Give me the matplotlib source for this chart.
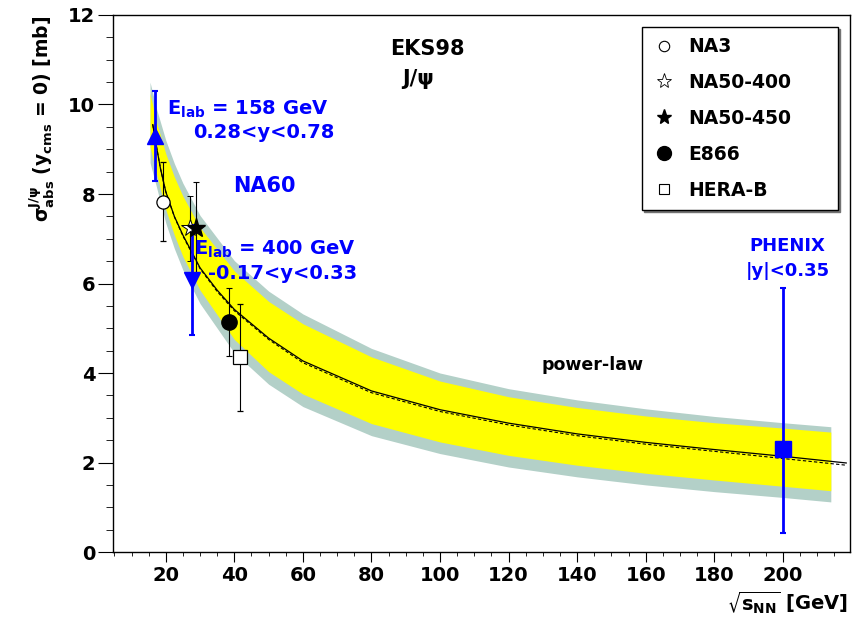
import matplotlib
matplotlib.use("Agg")
import matplotlib.pyplot as plt
from matplotlib.lines import Line2D
from matplotlib.ticker import MultipleLocator

plt.rcParams["font.family"] = ["DejaVu Sans"]
plt.rcParams["font.weight"] = "bold"
plt.rcParams["mathtext.fontset"] = "dejavusans"
plt.rcParams["mathtext.default"] = "bf"

# power-law curves (solid and dashed) vs sqrt(s_NN)
curve_x = [16.2, 17.3, 18.5, 20, 22.5, 25, 30, 35, 40, 50, 60, 80, 100, 120, 140, 160, 180, 200, 218.5]
curve_solid = [9.55, 9.05, 8.55, 8.05, 7.5, 7.08, 6.35, 5.85, 5.42, 4.78, 4.27, 3.6, 3.18, 2.88, 2.64, 2.45, 2.29, 2.14, 1.99]
curve_dash = [9.55, 9.05, 8.55, 8.05, 7.49, 7.06, 6.33, 5.82, 5.39, 4.75, 4.23, 3.56, 3.14, 2.84, 2.6, 2.41, 2.25, 2.09, 1.94]

# uncertainty bands
band_x = [15.4, 17.3, 20, 22.5, 25, 30, 40, 50, 60, 80, 100, 120, 140, 160, 180, 200, 214]
gray_hi = [10.5, 9.9, 9.2, 8.68, 8.24, 7.52, 6.51, 5.83, 5.32, 4.55, 4.0, 3.65, 3.4, 3.2, 3.03, 2.89, 2.8]
yellow_hi = [10.25, 9.6, 8.9, 8.38, 7.95, 7.25, 6.28, 5.6, 5.1, 4.36, 3.82, 3.47, 3.23, 3.04, 2.89, 2.77, 2.68]
yellow_lo = [9.05, 8.45, 7.65, 7.08, 6.6, 5.85, 4.75, 4.03, 3.53, 2.87, 2.46, 2.16, 1.94, 1.76, 1.61, 1.47, 1.37]
gray_lo = [8.7, 8.15, 7.35, 6.78, 6.3, 5.55, 4.45, 3.75, 3.25, 2.6, 2.2, 1.9, 1.68, 1.5, 1.35, 1.22, 1.12]

# measurements: sqrt(s), sigma_abs, error
na3 = (19.2, 7.83, 0.88)
na50_400 = (27.2, 7.23, 0.72)
na50_450 = (28.9, 7.25, 1.01)
e866 = (38.5, 5.13, 0.76)
herab = (41.6, 4.35, 1.2)
na60_158 = (16.9, 9.3, 1.0)
na60_400 = (27.5, 6.08, 1.22)
phenix = (200, 2.31, 1.89, 3.58)  # x, y, err down, err up

legend_labels = ["NA3", "NA50-400", "NA50-450", "E866", "HERA-B"]

fig = plt.figure(figsize=(8.64, 6.17), dpi=100)
ax = fig.add_axes([0.1308, 0.1053, 0.853, 0.8704])

ax.fill_between(band_x, gray_lo, gray_hi, color="#b3d0c8", lw=0)
ax.fill_between(band_x, yellow_lo, yellow_hi, color="#ffff00", lw=0)
ax.plot(curve_x, curve_solid, color="black", lw=0.9)
ax.plot(curve_x, curve_dash, color="black", lw=0.8, ls=(0, (3, 2)))

eb = dict(ecolor="black", elinewidth=0.8, capsize=2.5, capthick=0.8)
ax.errorbar(na3[0], na3[1], yerr=na3[2], fmt="o", ms=9.5, mfc="white", mec="black", mew=0.9, **eb)
ax.errorbar(na50_400[0], na50_400[1], yerr=na50_400[2], fmt="*", ms=13, mfc="white", mec="black", mew=0.7, **eb)
ax.errorbar(na50_450[0], na50_450[1], yerr=na50_450[2], fmt="*", ms=14, mfc="black", mec="black", **eb)
ax.errorbar(e866[0], e866[1], yerr=e866[2], fmt="o", ms=11, mfc="black", mec="black", **eb)
ax.errorbar(herab[0], herab[1], yerr=herab[2], fmt="s", ms=9.5, mfc="white", mec="black", mew=0.9, **eb)

bb = dict(color="blue", elinewidth=2, capsize=2.5, capthick=1.5)
ax.errorbar(na60_158[0], na60_158[1], yerr=na60_158[2], fmt="^", ms=12, **bb)
ax.errorbar(na60_400[0], na60_400[1], yerr=na60_400[2], fmt="v", ms=12, **bb)
ax.errorbar(phenix[0], phenix[1], yerr=[[phenix[2]], [phenix[3]]], fmt="s", ms=12, **bb)

# annotations
blue = dict(color="blue", fontsize=14, fontweight="bold")
ax.text(20.3, 9.77, r"E$_{lab}$ = 158 GeV", ha="left", va="baseline", **blue)
ax.text(27.9, 9.25, "0.28<y<0.78", ha="left", va="baseline", **blue)
ax.text(48.9, 8.04, "NA60", ha="center", va="baseline", color="blue", fontsize=15, fontweight="bold")
ax.text(28.2, 6.64, r"E$_{lab}$ = 400 GeV", ha="left", va="baseline", **blue)
ax.text(32.2, 6.1, "-0.17<y<0.33", ha="left", va="baseline", **blue)
ax.text(201.4, 6.73, "PHENIX", ha="center", va="baseline", color="blue", fontsize=13, fontweight="bold")
ax.text(201.4, 6.17, "|y|<0.35", ha="center", va="baseline", color="blue", fontsize=13, fontweight="bold")
ax.text(144.6, 4.07, "power-law", ha="center", va="baseline", fontsize=12.5, fontweight="bold")
ax.text(96.4, 11.1, "EKS98", ha="center", va="baseline", fontsize=15, fontweight="bold")
ax.text(93.5, 10.44, "J/ψ", ha="center", va="baseline", fontsize=15, fontweight="bold")

handles = [
    Line2D([], [], ls="", marker="o", ms=7.5, mfc="white", mec="black", mew=0.8),
    Line2D([], [], ls="", marker="*", ms=11, mfc="white", mec="black", mew=0.6),
    Line2D([], [], ls="", marker="*", ms=11, mfc="black", mec="black"),
    Line2D([], [], ls="", marker="o", ms=10, mfc="black", mec="black"),
    Line2D([], [], ls="", marker="s", ms=7.5, mfc="white", mec="black", mew=0.8),
]
leg = ax.legend(handles, legend_labels, loc="upper left", mode="expand",
                bbox_to_anchor=(0.718, 0.635, 0.266, 0.343),
                fontsize=13.5, labelspacing=0.9, handlelength=1.2, handletextpad=0.7,
                borderpad=0.55, borderaxespad=0, fancybox=False, edgecolor="black",
                framealpha=1, shadow={"ox": 1.5, "oy": -1.5, "color": "0.45", "alpha": 1})
leg.get_frame().set_linewidth(1)
for t in leg.get_texts():
    t.set_fontweight("bold")

ax.set_xlim(4.6, 219.6)
ax.set_ylim(0, 12)
ax.xaxis.set_major_locator(MultipleLocator(20))
ax.xaxis.set_minor_locator(MultipleLocator(5))
ax.yaxis.set_major_locator(MultipleLocator(2))
ax.yaxis.set_minor_locator(MultipleLocator(0.5))
ax.set_xticks(range(20, 201, 20))
ax.tick_params(axis="both", direction="out", labelsize=14, top=False, right=False)
ax.tick_params(axis="x", which="major", length=7.2, pad=3)
ax.tick_params(axis="x", which="minor", length=3.1)
ax.tick_params(axis="y", which="major", length=10.8, pad=2)
ax.tick_params(axis="y", which="minor", length=5.3)
for lab in ax.get_xticklabels() + ax.get_yticklabels():
    lab.set_fontweight("bold")
for s in ax.spines.values():
    s.set_linewidth(1)

fig.text(42 / 864, 1 - 16 / 617, r"$\sigma^{J/\psi}_{abs}$ (y$_{cms}$ = 0) [mb]",
         rotation=90, ha="center", va="top", fontsize=13.5, fontweight="bold")
fig.text(848 / 864, 1 - 603 / 617, r"$\sqrt{s_{NN}}$ [GeV]",
         ha="right", va="center", fontsize=14, fontweight="bold")

fig.savefig("out.png", dpi=100)
